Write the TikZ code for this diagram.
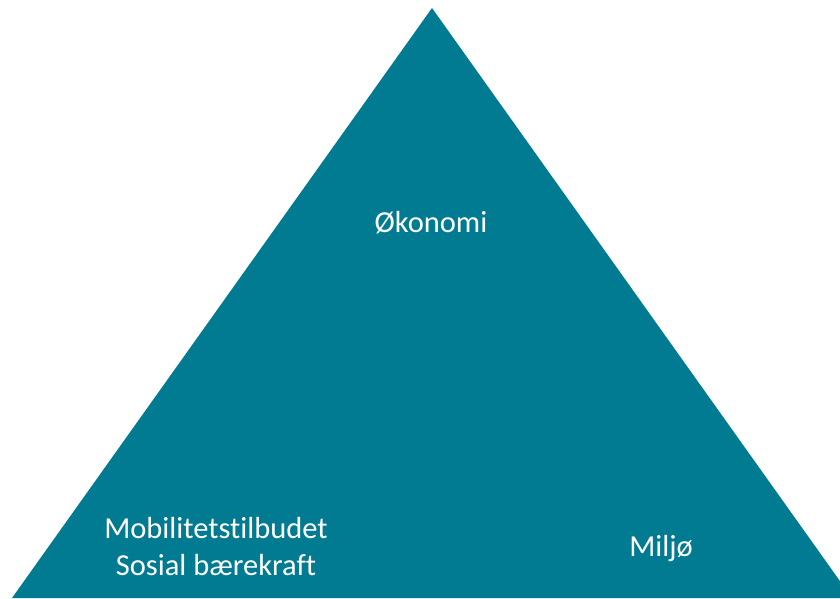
\documentclass[tikz,border=0pt]{standalone}
\usepackage{fontspec}
\setmainfont[Ligatures={NoCommon,NoContextual}]{Carlito}
\definecolor{teal1}{HTML}{017B92}
\begin{document}
\begin{tikzpicture}[x=1pt,y=-1pt,
  lbl/.style={text=white,font=\fontsize{30.5}{37}\selectfont,align=center,inner sep=0pt}]
\useasboundingbox (0,0) rectangle (840,598);
\begin{scope}
\clip (0,0) rectangle (840,598);
\fill[teal1] (432,8) -- (852,598) -- (12,598) -- cycle;
\end{scope}
\node[lbl] (oko) at (431,223) {Økonomi};
\node[lbl] (mob) at (216,547) {Mobilitetstilbudet\\Sosial bærekraft};
\node[lbl] (mil) at (661,549) {Miljø};
\end{tikzpicture}
\end{document}
